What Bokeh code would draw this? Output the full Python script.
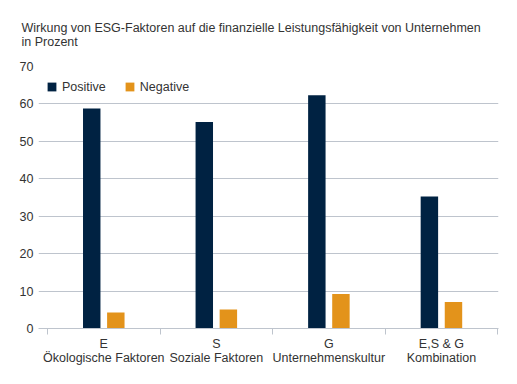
from bokeh.plotting import figure
from bokeh.models import Range1d, FixedTicker, Title, Legend, LegendItem, ColumnDataSource
from bokeh.embed import file_html
from bokeh.resources import INLINE

title_lines = ["Wirkung von ESG-Faktoren auf die finanzielle Leistungsfähigkeit von Unternehmen", "in Prozent"]
categories = ["E\nÖkologische Faktoren", "S\nSoziale Faktoren", "G\nUnternehmenskultur", "E,S & G\nKombination"]
positive = [58.8, 55.2, 62.3, 35.3]
negative = [4.3, 5.1, 9.2, 7.1]
y_ticks = [0, 10, 20, 30, 40, 50, 60, 70]

NAVY = "#002242"
ORANGE = "#E3931B"
GRID = "#BEC4CD"
TEXT = "#333333"
FONT = "Liberation Sans"

centers = [i + 0.5 for i in range(len(categories))]
src = ColumnDataSource(dict(
    xp=[c - 0.107 for c in centers],
    xn=[c + 0.107 for c in centers],
    pos=positive, neg=negative,
))

p = figure(width=517, height=384, output_backend="svg", toolbar_location=None,
           x_range=Range1d(-0.08, 4.007), y_range=Range1d(0, 70),
           min_border_left=38, min_border_right=19, min_border_top=66, min_border_bottom=56)
p.outline_line_color = None
p.background_fill_color = "white"
p.border_fill_color = "white"

rp = p.vbar(x="xp", top="pos", width=0.155, source=src, fill_color=NAVY, line_color=None)
rn = p.vbar(x="xn", top="neg", width=0.155, source=src, fill_color=ORANGE, line_color=None)

# title
p.title = Title(text="\n".join(title_lines), align="left", offset=-17,
                text_font=FONT, text_font_size="12.5px", text_font_style="normal",
                text_color=TEXT, standoff=34, text_line_height=1.05)

# y axis
ya = p.yaxis[0]
ya.ticker = FixedTicker(ticks=y_ticks)
ya.axis_line_color = None
ya.major_tick_line_color = None
ya.minor_tick_line_color = None
ya.major_tick_out = 0
ya.major_label_standoff = 5
ya.major_label_text_font = FONT
ya.major_label_text_font_size = "12.5px"
ya.major_label_text_color = TEXT

# x axis
xa = p.xaxis[0]
xa.ticker = FixedTicker(ticks=centers, minor_ticks=[0, 1, 2, 3, 4])
xa.major_label_overrides = {c: lab for c, lab in zip(centers, categories)}
xa.axis_line_color = GRID
xa.major_tick_line_color = None
xa.major_tick_out = 0
xa.major_tick_in = 0
xa.minor_tick_line_color = GRID
xa.minor_tick_out = 6
xa.minor_tick_in = 0
xa.major_label_standoff = 2
xa.major_label_text_font = FONT
xa.major_label_text_font_size = "12.5px"
xa.major_label_text_color = TEXT
xa.major_label_text_line_height = 1.05

p.xgrid.grid_line_color = None
p.ygrid.grid_line_color = GRID
p.ygrid.ticker = FixedTicker(ticks=y_ticks[1:])

legend = Legend(items=[LegendItem(label="Positive", renderers=[rp]),
                       LegendItem(label="Negative", renderers=[rn])],
                orientation="horizontal", location=(8, 234.5),
                glyph_width=11, glyph_height=11, label_height=11,
                label_standoff=5, spacing=18, padding=0, margin=0,
                border_line_color=None, background_fill_alpha=0,
                label_text_font=FONT, label_text_font_size="12.5px",
                label_text_color=TEXT)
p.add_layout(legend, "center")

open("out.html", "w").write(file_html(p, INLINE))
